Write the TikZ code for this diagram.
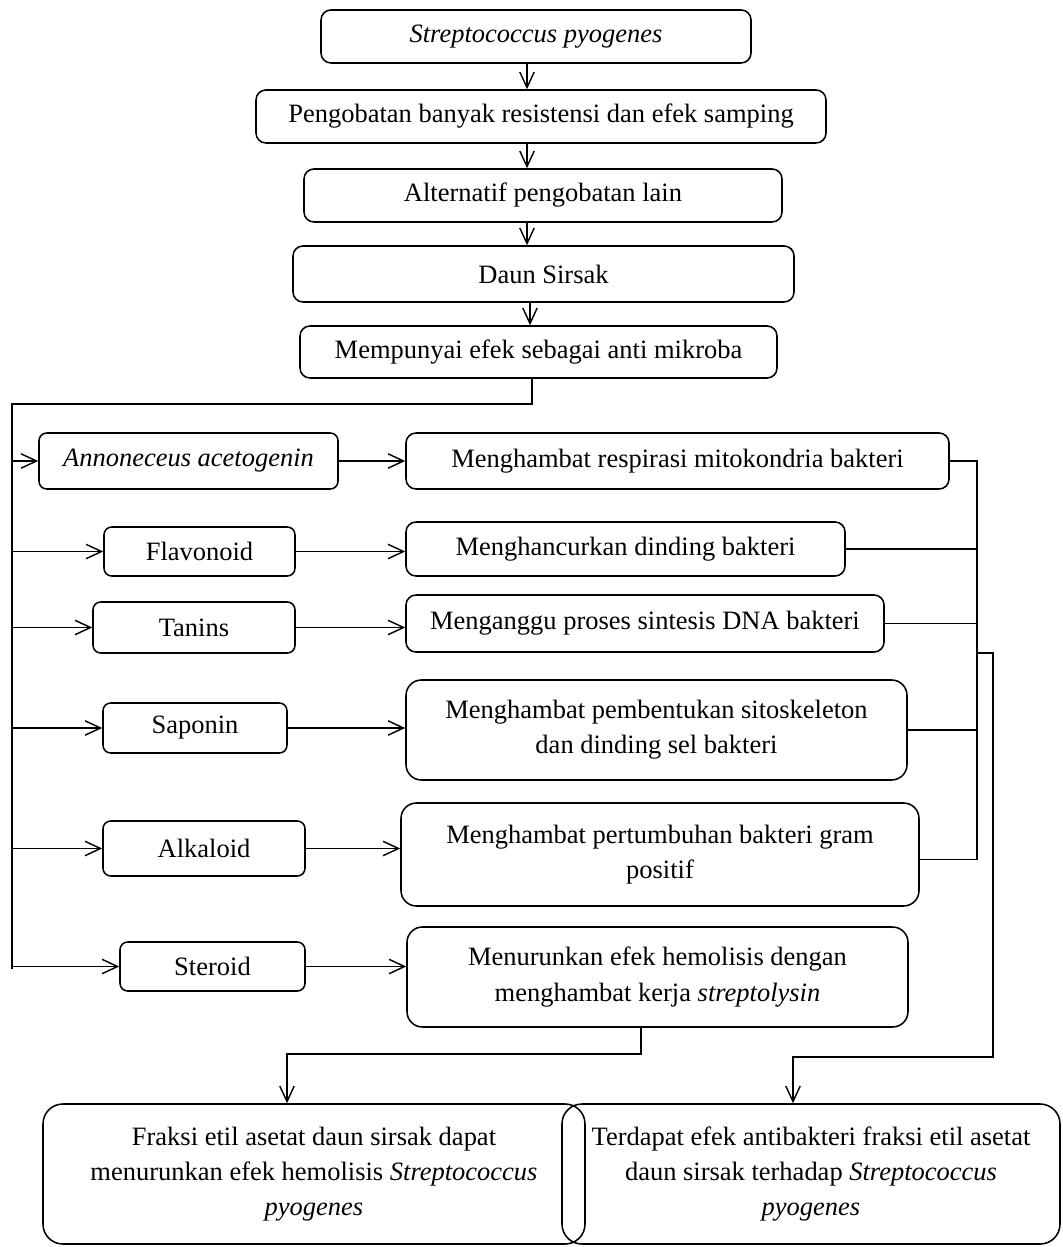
\documentclass[tikz,border=0pt]{standalone}
\usepackage{fontspec}
\setmainfont{Liberation Serif}
\usetikzlibrary{arrows.meta}
\newcommand{\pxu}{0.453pt}
\tikzset{
box/.style={draw, line width=0.7pt, rounded corners=4.5pt, align=center,
	inner sep=0pt, font=\fontsize{12pt}{16pt}\selectfont},
size/.style 2 args={minimum width=#1*\pxu, minimum height=#2*\pxu},
arr/.style={-{Straight Barb[length=7pt,width=6.5pt]}, line width=0.65pt},
link/.style={line width=0.65pt}
}

\begin{document}
\begin{tikzpicture}[x=\pxu, y=-\pxu]
	\useasboundingbox (0,0) rectangle (1062,1247);
	% top column
	\node[box, size={430}{53}] (strep) at (536,36.5) {\textit{Streptococcus pyogenes}};
	\node[box, size={570}{53}] (obat) at (541,116.5) {Pengobatan banyak resistensi dan efek samping};
	\node[box, size={478}{53}] (alt) at (543,195.5) {Alternatif pengobatan lain};
	\node[box, size={501}{56}] (daun) at (543.5,274) {Daun Sirsak};
	\node[box, size={477}{52}] (efek) at (538.5,352) {Mempunyai efek sebagai anti mikroba};
	% compounds
	\node[box, rounded corners=3.5pt, size={299}{56}] (aceto) at (188.5,461) {\textit{Annoneceus acetogenin}};
	\node[box, rounded corners=3.5pt, size={191}{49}] (flav) at (199.5,551.5) {Flavonoid};
	\node[box, rounded corners=3.5pt, size={202}{51}] (tan) at (194,627.5) {Tanins};
	\node[box, rounded corners=3.5pt, size={184}{50}] (sap) at (195,728) {Saponin};
	\node[box, rounded corners=3.5pt, size={202}{55}] (alk) at (204,848.5) {Alkaloid};
	\node[box, rounded corners=3.5pt, size={185}{49}] (ster) at (212.5,966.5) {Steroid};
	% effects
	\node[box, size={543}{56}] (resp) at (677.5,461) {Menghambat respirasi mitokondria bakteri};
	\node[box, size={439}{54}] (dind) at (625.5,549) {Menghancurkan dinding bakteri};
	\node[box, size={478}{57}] (dna) at (645,623.5) {Menganggu proses sintesis DNA bakteri};
	\node[box, rounded corners=7pt, size={501}{100}] (sito) at (656.5,730)
		{Menghambat pembentukan sitoskeleton\\dan dinding sel bakteri};
	\node[box, rounded corners=7pt, size={518}{103}] (gram) at (660,854.5)
		{Menghambat pertumbuhan bakteri gram\\positif};
	\node[box, rounded corners=7pt, size={501}{100}] (hemo) at (657.5,977)
		{Menurunkan efek hemolisis dengan\\menghambat kerja \textit{streptolysin}};
	% conclusions
	\node[box, rounded corners=9pt, size={542}{140}] (fraksi) at (314,1174)
		{Fraksi etil asetat daun sirsak dapat\\menurunkan efek hemolisis \textit{Streptococcus}\\\textit{pyogenes}};
	\node[box, rounded corners=9pt, size={498}{140}] (anti) at (811,1174)
		{Terdapat efek antibakteri fraksi etil asetat\\daun sirsak terhadap \textit{Streptococcus}\\\textit{pyogenes}};

	\coordinate (ax) at (527,0);
	\coordinate (busTL) at (12,404);
	\coordinate (busBL) at (12,969);
	\coordinate (rbus) at (976,0);
	\coordinate (split) at (976,653);
	\coordinate (rdown) at (993,1057);
	\coordinate (ldown) at (641,1054);

	\draw[arr] (strep.south -| ax) -- (obat.north -| ax);
	\draw[arr] (obat.south -| ax) -- (alt.north -| ax);
	\draw[arr] (alt.south -| ax) -- (daun.north -| ax);
	\draw[arr] (daun.south -| 530,0) -- (efek.north -| 530,0);
	\draw[link] (efek.south -| 532,0) |- (busTL) -- (busBL);

	\foreach \c in {aceto,flav,tan,sap,alk,ster}
		\draw[arr] (\c.west -| busTL) -- (\c.west);
	\draw[arr] (aceto) -- (resp);
	\draw[arr] (flav.east) -- (flav.east -| dind.west);
	\draw[arr] (tan.east) -- (tan.east -| dna.west);
	\draw[arr] (sap.east) -- (sap.east -| sito.west);
	\draw[arr] (alk.east) -- (alk.east -| gram.west);
	\draw[arr] (ster.east) -- (ster.east -| hemo.west);

	\foreach \c in {resp,dind,dna,sito}
		\draw[link] (\c.east) -- (\c.east -| rbus);
	\draw[link] (gram.east) ++(0,5) -- ++(57,0) |- (resp.east -| rbus);
	\draw[arr] (split) -| (rdown) -| (anti.north -| 793,0);
	\draw[arr] (hemo.south -| ldown) -- (ldown) -| (fraksi.north -| 287,0);
\end{tikzpicture}
\end{document}
